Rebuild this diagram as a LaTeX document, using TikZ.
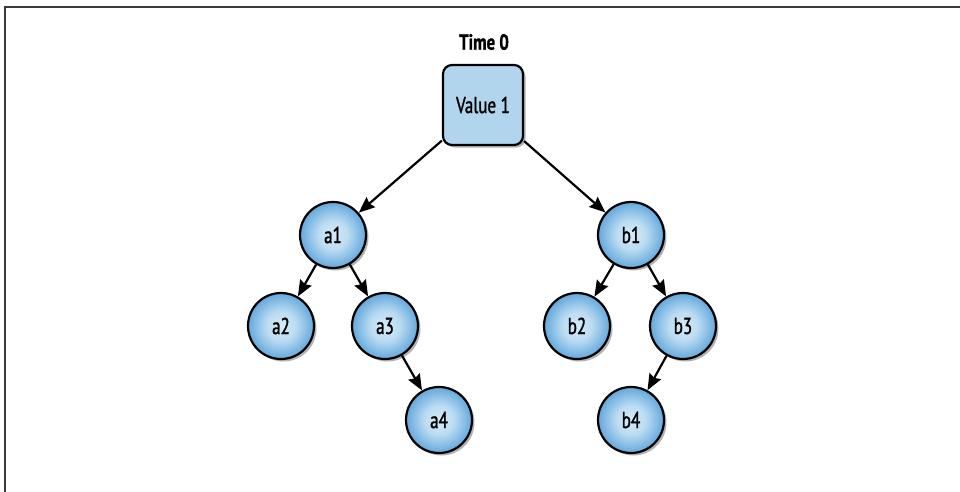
\documentclass[tikz,border=0pt]{standalone}
\usepackage{fontspec}
\setmainfont{PT Sans}[FakeStretch=0.74]
\newfontfamily\nodefont{PT Sans}[FakeStretch=0.74, FakeBold=1.3]
\newfontfamily\titlefont{PT Sans Bold}[FakeStretch=0.76, FakeBold=1.2]
\usetikzlibrary{arrows.meta,shadows}
\definecolor{boxblue}{HTML}{B2D5EE}
\definecolor{cin}{HTML}{D6EBF8}
\definecolor{cmid}{HTML}{BBDCF2}
\definecolor{cout}{HTML}{64A8DC}
\definecolor{frame}{HTML}{3A3A3A}
\pgfdeclareradialshading{ballshade}{\pgfpoint{0bp}{0bp}}{color(0bp)=(cin); color(11bp)=(cmid); color(25bp)=(cout); color(50bp)=(cout)}
\begin{document}
\begin{tikzpicture}[x=1pt,y=-1pt,
  every node/.style={font=\nodefont\fontsize{23}{26}\selectfont},
  valbox/.style={draw=black, line width=2.2pt, rounded corners=9pt, fill=boxblue,
    minimum width=80pt, minimum height=80pt, inner sep=0pt,
    drop shadow={shadow xshift=2.5pt, shadow yshift=-2.5pt, opacity=0.3, fill=black}},
  tnode/.style={circle, draw=black, line width=2.2pt, minimum size=66pt, inner sep=0pt,
    shading=ballshade,
    drop shadow={shadow xshift=2.5pt, shadow yshift=-2.5pt, opacity=0.3, fill=black}},
  edge/.style={line width=2.2pt, -{Stealth[length=16pt,width=13pt,inset=2pt]}},
  framel/.style={draw=frame, line width=2pt}
]
\useasboundingbox (0,0) rectangle (960,492);
\coordinate (fA) at (5,492);
\coordinate (fB) at (5,7);
\coordinate (fC) at (960,7);
\draw[framel] (fA) -- (fB) -- (fC);

\node[font=\titlefont\fontsize{22}{26}\selectfont] (title) at (484,42) {Time 0};
\node[valbox] (v) at (483,105) {Value 1};

\node[tnode] (a1) at (333,235) {a1};
\node[tnode] (b1) at (631,235) {b1};
\node[tnode] (a2) at (281,326) {a2};
\node[tnode] (a3) at (385,326) {a3};
\node[tnode] (b2) at (577,326) {b2};
\node[tnode] (b3) at (683,326) {b3};
\node[tnode] (a4) at (439,420) {a4};
\node[tnode] (b4) at (631,420) {b4};

\draw[edge] (v) -- (a1);
\draw[edge] (v) -- (b1);
\draw[edge] (a1) -- (a2);
\draw[edge] (a1) -- (a3);
\draw[edge] (a3) -- (a4);
\draw[edge] (b1) -- (b2);
\draw[edge] (b1) -- (b3);
\draw[edge] (b3) -- (b4);
\end{tikzpicture}
\end{document}
